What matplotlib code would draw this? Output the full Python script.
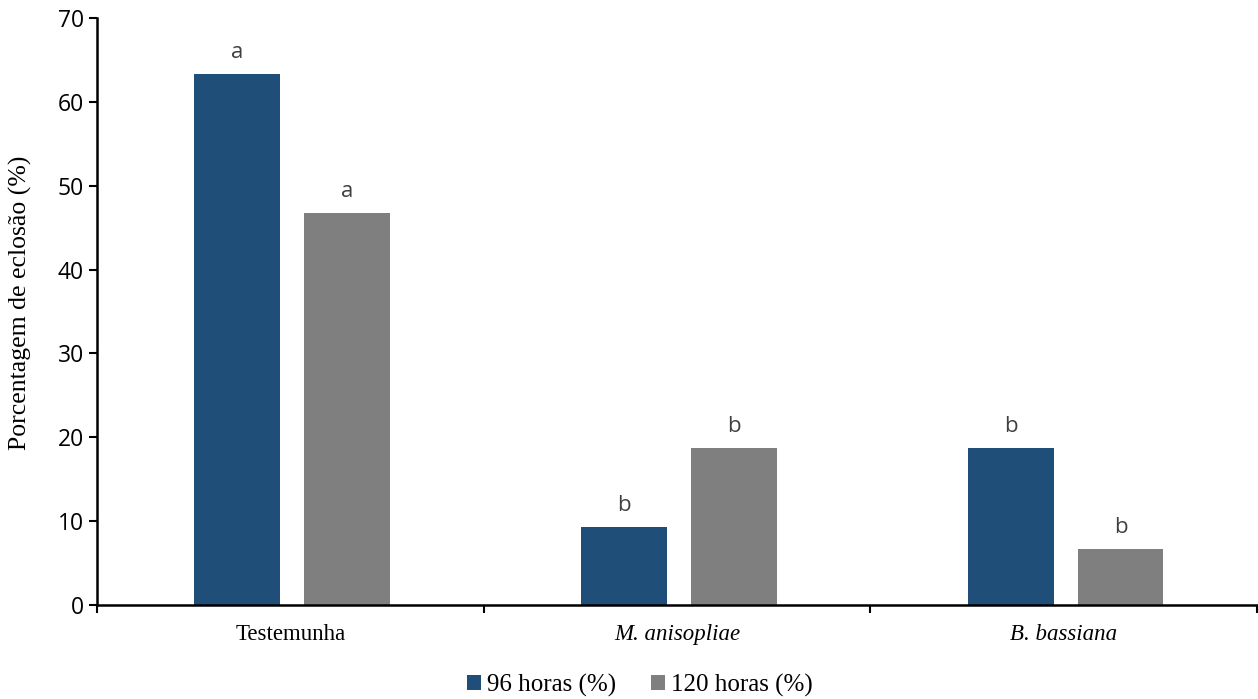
import numpy as np
import matplotlib.pyplot as plt
from matplotlib.ticker import FixedLocator

# Dados
categorias = ["Testemunha", "M. anisopliae", "B. bassiana"]
horas_96 = [63.3, 9.3, 18.7]
horas_120 = [46.7, 18.7, 6.7]
letras_96 = ["a", "b", "b"]
letras_120 = ["a", "b", "b"]
series = ["96 horas (%)", "120 horas (%)"]

azul = "#1F4E79"
cinza = "#7F7F7F"

fig = plt.figure(figsize=(12.58, 6.99), dpi=100)
ax = fig.add_axes([97/1258, 94/699, 1160/1258, 587/699])

x = np.arange(len(categorias))
w = 0.222
b1 = ax.bar(x - 0.137, horas_96, w, color=azul, label=series[0], zorder=2)
b2 = ax.bar(x + 0.147, horas_120, w, color=cinza, label=series[1], zorder=2)

for barras, letras in [(b1, letras_96), (b2, letras_120)]:
    for r, l in zip(barras, letras):
        ax.annotate(l, (r.get_x() + r.get_width() / 2, r.get_height()),
                    xytext=(0, 8), textcoords="offset points",
                    ha="center", va="bottom", fontsize=16,
                    family="Open Sans", color="#404040")

ax.set_xlim(-0.5, 2.5)
ax.set_ylim(0, 70)
ax.set_yticks(range(0, 71, 10))
ax.tick_params(axis="y", labelsize=16.5, length=6, width=1.5, direction="out")
for t in ax.get_yticklabels():
    t.set_family("Open Sans")

ax.xaxis.set_major_locator(FixedLocator([-0.5, 0.5, 1.5, 2.5]))
ax.xaxis.set_minor_locator(FixedLocator(x))
ax.tick_params(axis="x", which="major", labelbottom=False, length=6, width=1.5)
ax.tick_params(axis="x", which="minor", length=0, pad=14)
ax.set_xticklabels(categorias, minor=True, family="Liberation Serif", fontsize=16.5)
for t in ax.get_xticklabels(minor=True)[1:]:
    t.set_style("italic")

ax.set_ylabel("Porcentagem de eclosão (%)", family="Liberation Serif",
              fontsize=18.5)
ax.yaxis.set_label_coords(-0.056, 0.515)

for s in ["top", "right"]:
    ax.spines[s].set_visible(False)
ax.spines["left"].set_linewidth(1.8)
ax.spines["bottom"].set_linewidth(1.8)

ax.legend(loc="center", bbox_to_anchor=(0.468, -0.137), ncol=2,
          frameon=False, prop={"family": "Liberation Serif", "size": 18},
          handlelength=0.55, handleheight=0.55, handletextpad=0.25,
          columnspacing=1.4)

fig.savefig("out.png", dpi=100)
